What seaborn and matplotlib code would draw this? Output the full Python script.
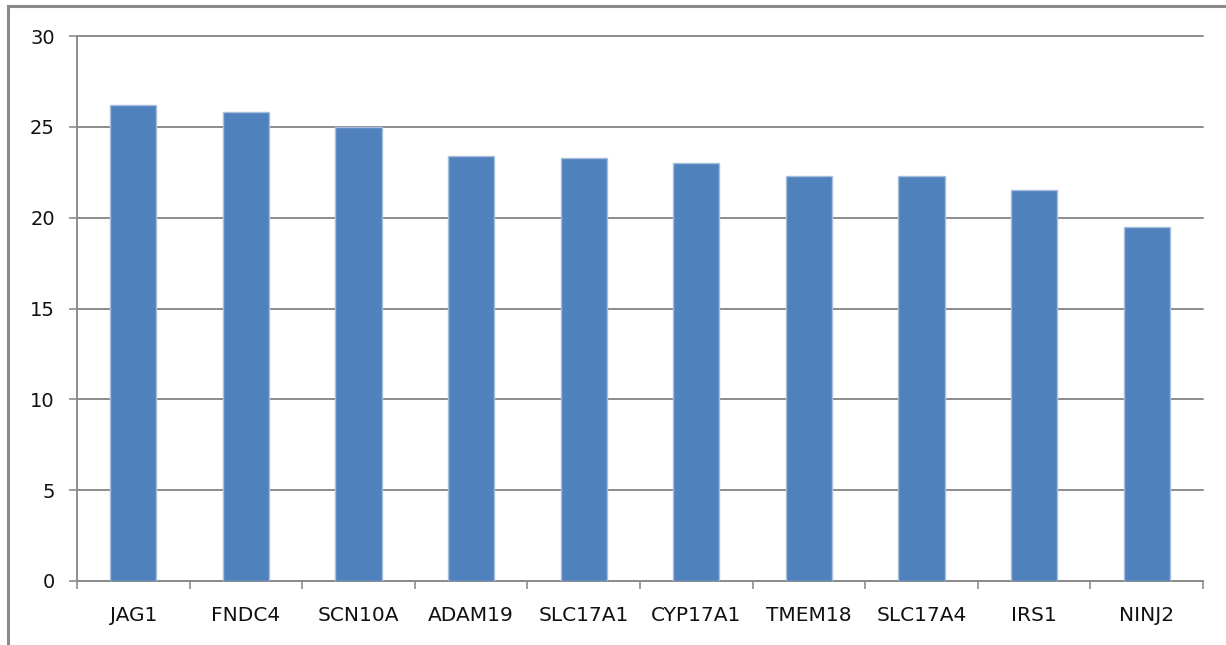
import matplotlib
matplotlib.use("Agg")
import matplotlib.pyplot as plt
from matplotlib.patches import Rectangle
from matplotlib.ticker import FixedLocator
import seaborn as sns
import pandas as pd

genes = ["JAG1", "FNDC4", "SCN10A", "ADAM19", "SLC17A1",
         "CYP17A1", "TMEM18", "SLC17A4", "IRS1", "NINJ2"]
scores = [26.2, 25.8, 25.0, 23.4, 23.3, 23.0, 22.3, 22.3, 21.5, 19.5]
y_ticks = [0, 5, 10, 15, 20, 25, 30]

sns.set_theme(style="white")
plt.rcParams["font.family"] = ["DejaVu Sans"]

df = pd.DataFrame({"gene": genes, "score": scores})

fig = plt.figure(figsize=(12.26, 6.45), dpi=100)
ax = fig.add_axes([77 / 1226, 1 - 581 / 645, (1203 - 77) / 1226, (581 - 36) / 645])

sns.barplot(data=df, x="gene", y="score", color="#4F81BD", saturation=1,
            width=0.41, edgecolor="#A7BEDD", linewidth=1.0, ax=ax, zorder=3)

grid_c = "#8C8C8C"
ax.set_ylim(0, 30)
ax.set_xlim(-0.5, len(genes) - 0.5)
ax.set_yticks(y_ticks)
ax.yaxis.grid(True, color=grid_c, linewidth=1.4, zorder=0)
for gl in ax.get_ygridlines():
    gl.set_clip_on(False)
ax.set_axisbelow(True)
ax.set_xlabel("")
ax.set_ylabel("")

for side in ["top", "right"]:
    ax.spines[side].set_visible(False)
for side in ["left", "bottom"]:
    ax.spines[side].set_color(grid_c)
    ax.spines[side].set_linewidth(1.4)

ax.tick_params(axis="y", which="major", length=6, width=1.2, color=grid_c,
               pad=10, labelsize=14, labelcolor="#111111", left=True)
ax.tick_params(axis="x", which="major", length=0, pad=18,
               labelsize=14.5, labelcolor="#111111")
ax.xaxis.set_minor_locator(FixedLocator([i - 0.5 for i in range(len(genes) + 1)]))
ax.tick_params(axis="x", which="minor", length=6, width=1.2, color=grid_c, bottom=True)

# chart frame
fig.patches.append(Rectangle((8 / 1226, -0.05), 1.2, 1 - 6 / 645 + 0.05,
                             transform=fig.transFigure, fill=False,
                             edgecolor="#8A8A8A", linewidth=2.2))

fig.savefig("out.png", dpi=100, facecolor="white")
